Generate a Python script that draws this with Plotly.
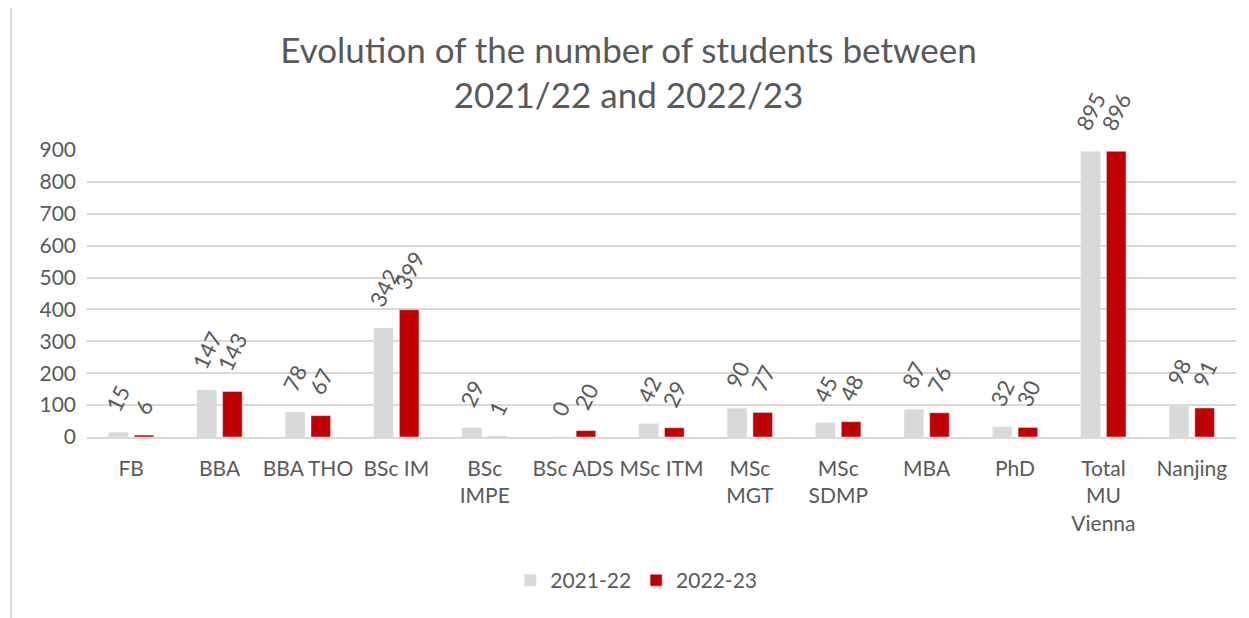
import plotly.graph_objects as go

programmes = ["FB", "BBA", "BBA THO", "BSc IM", "BSc<br>IMPE", "BSc ADS", "MSc ITM",
              "MSc<br>MGT", "MSc<br>SDMP", "MBA", "PhD", "Total<br>MU<br>Vienna", "Nanjing"]
students_2122 = [15, 147, 78, 342, 29, 0, 42, 90, 45, 87, 32, 895, 98]
students_2223 = [6, 143, 67, 399, 1, 20, 29, 77, 48, 76, 30, 896, 91]
y_ticks = [0, 100, 200, 300, 400, 500, 600, 700, 800, 900]

text_color = "#595959"
grid_color = "#d9d9d9"
font_family = "Lato, 'Open Sans', sans-serif"

series = [("2021-22", students_2122, "#d9d9d9", -12.8),
          ("2022-23", students_2223, "#c00000", 12.8)]

fig = go.Figure()

for name, values, color, shift in series:
    fig.add_trace(go.Bar(
        x=programmes,
        y=values,
        name=name,
        marker_color=color,
        cliponaxis=False,
    ))
    # rotated value labels above each bar
    for cat, v in zip(programmes, values):
        fig.add_annotation(
            x=cat, y=v, text=str(v),
            textangle=-64,
            xanchor="center", yanchor="bottom",
            xshift=shift, yshift=14,
            showarrow=False,
            font=dict(size=22, color=text_color, family=font_family),
        )

# the page body adds an 8px margin, so the figure is 8px smaller on each axis
fig.update_layout(
    width=1241,
    height=610,
    margin=dict(l=79, r=13, t=142, b=181, autoexpand=False),
    paper_bgcolor="white",
    plot_bgcolor="white",
    font=dict(family=font_family, color=text_color, size=21),
    title=dict(
        text="Evolution of the number of students between<br>2021/22 and 2022/23",
        x=0.5, xanchor="center",
        y=0.910, yanchor="middle",
        font=dict(size=35, color=text_color, family=font_family),
    ),
    barmode="group",
    bargap=0.42,
    bargroupgap=0.235,
    legend=dict(
        orientation="h",
        x=0.478, xanchor="center",
        y=-0.5, yanchor="middle",
        font=dict(size=21, color=text_color),
        itemwidth=30,
    ),
    showlegend=True,
)

fig.update_yaxes(
    range=[0, 900],
    tickvals=y_ticks,
    showgrid=True,
    gridcolor=grid_color,
    gridwidth=1.5,
    zeroline=False,
    showline=False,
    ticks="",
    automargin=False,
    ticklabelstandoff=10,
    tickfont=dict(size=21, color=text_color),
)
fig.update_xaxes(
    showgrid=False,
    showline=True,
    linecolor=grid_color,
    linewidth=1.5,
    ticks="",
    automargin=False,
    ticklabelstandoff=12,
    tickangle=0,
    tickfont=dict(size=21, color=text_color),
)

# outer chart frame (left and top border)
fig.add_shape(type="line", xref="paper", yref="paper",
              x0=-0.0661, x1=-0.0661, y0=1.505, y1=-0.65,
              line=dict(color=grid_color, width=2))
fig.add_shape(type="line", xref="paper", yref="paper",
              x0=-0.0661, x1=1.02, y0=1.505, y1=1.505,
              line=dict(color=grid_color, width=2))

fig.write_html("out.html")
